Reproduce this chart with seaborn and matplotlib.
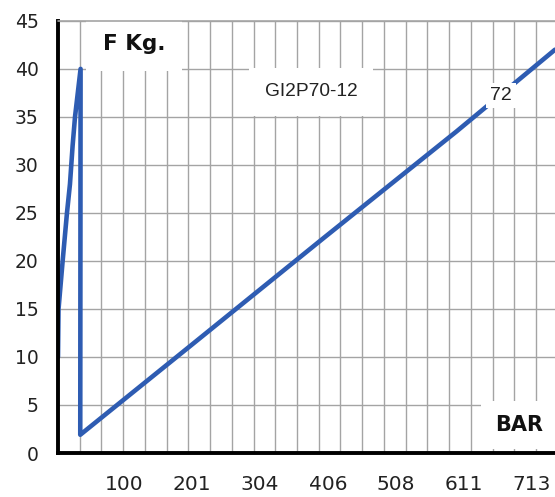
import matplotlib
matplotlib.use("Agg")
import matplotlib.pyplot as plt
import seaborn as sns
import numpy as np
import pandas as pd

# curve (x in BAR, y in kg)
bar = [0, 0.8, 7, 13.5, 18, 22, 25.6, 34, 33.5, 200, 400, 600, 748]
kg = [10, 15, 20, 25, 28, 32, 35, 40, 1.9, 11.2, 22.4, 33.5, 42]
df = pd.DataFrame({'BAR': bar, 'F': kg})

xlabels = [100, 201, 304, 406, 508, 611, 713]
yticks = [0, 5, 10, 15, 20, 25, 30, 35, 40, 45]
minor_step = 32.7

sns.set_style('white')
plt.rcParams['font.family'] = ['DejaVu Sans']

fig = plt.figure(figsize=(5.55, 4.97), dpi=100)
ax = fig.add_axes([0.1045, 0.0885, 0.8955, 0.8695])

sns.lineplot(data=df, x='BAR', y='F', sort=False, color='#2e5cb2', lw=3.3, ax=ax)

ax.set_xlim(0, 748)
ax.set_ylim(0, 45)
ax.set_xticks(xlabels)
ax.set_xticklabels([str(v) for v in xlabels])
ax.set_xticks(np.arange(0, 23) * minor_step, minor=True)
ax.set_yticks(yticks)
ax.tick_params(axis='x', which='major', length=0, labelsize=14.5, pad=16, colors='#222222')
ax.tick_params(axis='x', which='minor', length=6, width=2.4, direction='out', color='black')
ax.tick_params(axis='y', length=6, width=2.2, direction='out', labelsize=13.5, pad=8,
               color='black', labelcolor='#222222')
ax.grid(False)
ax.grid(True, which='minor', axis='x', color='#a4a4a4', lw=1)
ax.grid(True, which='major', axis='y', color='#a4a4a4', lw=1)
ax.set_axisbelow(True)
# top grid line stays visible over the label box
ax.axhline(45, color='#a4a4a4', lw=1.2, zorder=5, clip_on=False)

for s in ['top', 'right']:
    ax.spines[s].set_visible(False)
for s in ['left', 'bottom']:
    ax.spines[s].set_linewidth(2.8)
    ax.spines[s].set_color('black')
ax.set_xlabel('')
ax.set_ylabel('')

ax.text(114.5, 42.55, 'F Kg.', fontsize=15.5, fontweight='bold', ha='center', va='center',
        color='#111111', bbox=dict(facecolor='white', edgecolor='none', pad=12))
ax.text(381, 37.6, 'GI2P70-12', fontsize=13.8, ha='center', va='center', color='#222222',
        family=['Liberation Sans'], bbox=dict(facecolor='white', edgecolor='none', pad=11))
ax.text(667, 37.2, '72', fontsize=14, ha='center', va='center', color='#222222',
        family=['Liberation Sans'], bbox=dict(facecolor='white', edgecolor='none', pad=3))
ax.text(693.5, 2.9, 'BAR', fontsize=15, fontweight='bold', ha='center', va='center',
        color='#111111', bbox=dict(facecolor='white', edgecolor='none', pad=10))

fig.savefig('out.png', dpi=100)
